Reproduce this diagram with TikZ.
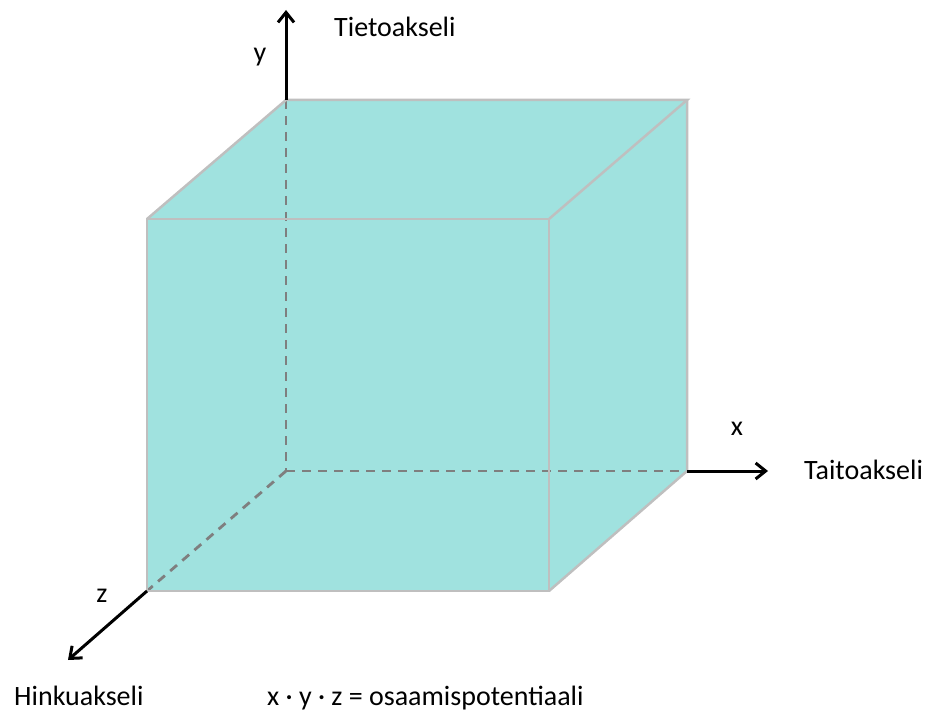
\documentclass[tikz,border=0pt]{standalone}
\usepackage{fontspec}
\setmainfont{Carlito}
\usetikzlibrary{arrows.meta}
\definecolor{cubefill}{HTML}{A0E2DF}
\definecolor{edgegrey}{HTML}{BFBFBF}
\definecolor{hiddengrey}{HTML}{7F7F7F}
\begin{document}
\begin{tikzpicture}[x=1pt,y=-1pt,
  edge/.style={draw=edgegrey,line width=2.5pt,line join=miter},
  hidden/.style={draw=hiddengrey,line width=2.8pt,dash pattern=on 9pt off 7pt},
  axis/.style={draw=black,line width=3pt,-{Straight Barb[length=10pt,width=16pt,line width=3pt]}},
  lbl/.style={font=\fontsize{28}{33}\selectfont,inner sep=0pt}]
\useasboundingbox (0,0) rectangle (933,711);
% corners
\coordinate (A) at (147,219); % front top-left
\coordinate (B) at (549,219); % front top-right
\coordinate (C) at (549,591); % front bottom-right
\coordinate (D) at (147,591); % front bottom-left
\coordinate (E) at (286,100); % back top-left
\coordinate (F) at (687,100); % back top-right
\coordinate (G) at (687,471); % back bottom-right
\coordinate (O) at (286,471); % back bottom-left (origin)
\coordinate (Yend) at (286,10);
\coordinate (Xend) at (768,471);
\coordinate (Zend) at (68,660);
% fill
\fill[cubefill] (A) -- (E) -- (F) -- (G) -- (C) -- (D) -- cycle;
% hidden edges
\draw[hidden] (E) -- (O);
\draw[hidden] (O) -- (G);
\draw[hidden] (O) -- (D);
% visible edges
\draw[edge] (A) -- (B) -- (C) -- (D) -- cycle;
\draw[edge] (A) -- (E) -- (F) -- (B);
\draw[edge] (F) -- (G) -- (C);
% axes
\draw[axis] (E) -- (Yend);
\draw[axis] (G) -- (Xend);
\draw[axis] (D) -- (Zend);
% labels
\node[lbl,anchor=base] (ylbl) at (260,62) {y};
\node[lbl,anchor=base west] (ytxt) at (334,37) {Tietoakseli};
\node[lbl,anchor=base] (xlbl) at (737,435) {x};
\node[lbl,anchor=base west] (xtxt) at (804,479) {Taitoakseli};
\node[lbl,anchor=base] (zlbl) at (102,602) {z};
\node[lbl,anchor=base west] (ztxt) at (14,705) {Hinkuakseli};
\node[lbl,anchor=base west] (formula) at (267,705) {x · y · z = osaamispotentiaali};
\end{tikzpicture}
\end{document}
